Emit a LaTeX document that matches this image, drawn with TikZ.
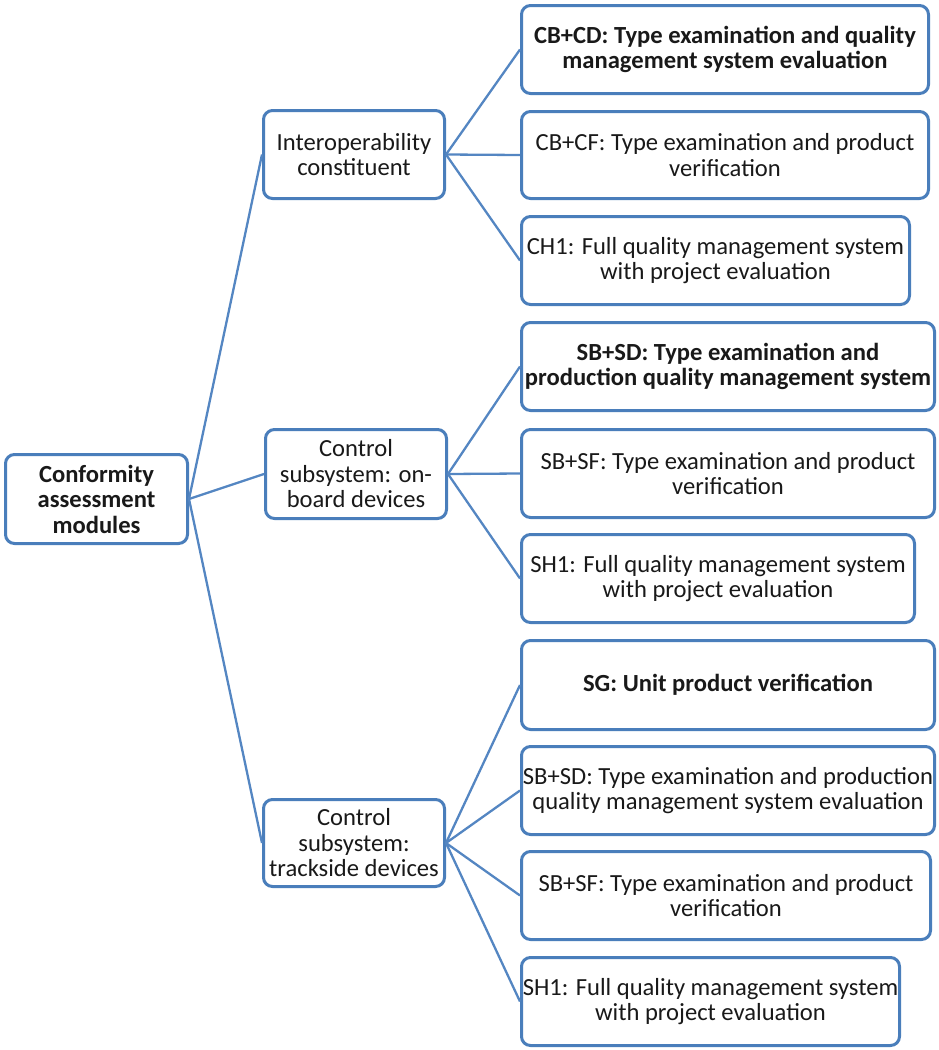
\documentclass[tikz,border=0pt]{standalone}
\usepackage{fontspec}
\setmainfont{Carlito}
\definecolor{boxblue}{RGB}{74,126,187}
\definecolor{lineblue}{RGB}{84,134,194}
\newcommand{\boxfont}{\fontsize{24.6pt}{25.5pt}\selectfont}
\begin{document}
\begin{tikzpicture}[x=1pt,y=-1pt,
  box/.style={draw=boxblue, line width=3pt, rounded corners=9pt, fill=white,
    inner sep=0pt, align=center, font=\boxfont, text=black!90},
  boldbox/.style={box, font=\bfseries\boxfont},
  link/.style={draw=lineblue, line width=2.3pt}]
\useasboundingbox (0,0) rectangle (938,1050);
\node[boldbox, minimum width=182pt, minimum height=89pt] (root) at (96.5,499) {Conformity\\assessment\\modules};
\node[box, minimum width=181pt, minimum height=88pt] (ia) at (354,154.5) {Interoperability\\constituent};
\node[box, minimum width=181pt, minimum height=89pt] (ob) at (356,474) {Control\\subsystem: on-\\board devices};
\node[box, minimum width=181pt, minimum height=87pt] (ts) at (354,843) {Control\\subsystem:\\trackside devices};
% level 3
\node[boldbox, minimum width=407pt, minimum height=88pt] (c1) at (725,49.5) {CB+CD: Type examination and quality\\management system evaluation};
\node[box, minimum width=407pt, minimum height=87pt] (c2) at (725,155) {CB+CF: Type examination and product\\verification};
\node[box, minimum width=388pt, minimum height=88pt] (c3) at (715.5,260.5) {CH1: Full quality management system\\with project evaluation};
\node[boldbox, minimum width=413pt, minimum height=88pt] (s1) at (728,366.5) {SB+SD: Type examination and\\production quality management system};
\node[box, minimum width=413pt, minimum height=88pt] (s2) at (728,473.5) {SB+SF: Type examination and product\\verification};
\node[box, minimum width=393pt, minimum height=88pt] (s3) at (718,578.5) {SH1: Full quality management system\\with project evaluation};
\node[boldbox, minimum width=413pt, minimum height=89pt] (t1) at (728,685) {SG: Unit product verification};
\node[box, minimum width=413pt, minimum height=88pt] (t2) at (728,790.5) {SB+SD: Type examination and production\\quality management system evaluation};
\node[box, minimum width=409pt, minimum height=88pt] (t3) at (726,895.5) {SB+SF: Type examination and product\\verification};
\node[box, minimum width=378pt, minimum height=88pt] (t4) at (710.5,1001.5) {SH1: Full quality management system\\with project evaluation};
% connectors
\draw[link] (root.east) -- (ia.west);
\draw[link] (root.east) -- (ob.west);
\draw[link] (root.east) -- (ts.west);
\draw[link] (ia.east) -- (c1.west);
\draw[link] (ia.east) -- (c2.west);
\draw[link] (ia.east) -- (c3.west);
\draw[link] (ob.east) -- (s1.west);
\draw[link] (ob.east) -- (s2.west);
\draw[link] (ob.east) -- (s3.west);
\draw[link] (ts.east) -- (t1.west);
\draw[link] (ts.east) -- (t2.west);
\draw[link] (ts.east) -- (t3.west);
\draw[link] (ts.east) -- (t4.west);
\end{tikzpicture}
\end{document}
